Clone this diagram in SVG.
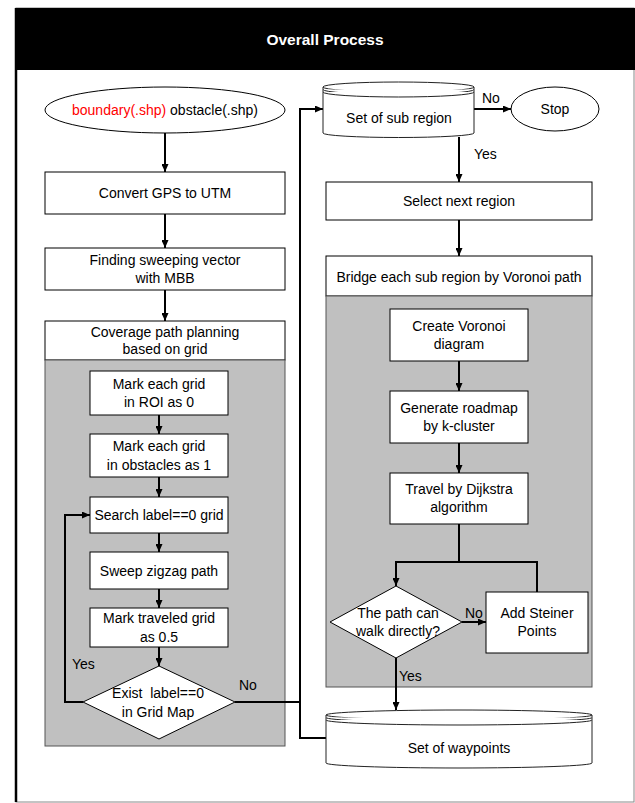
<svg xmlns="http://www.w3.org/2000/svg" width="635" height="803" viewBox="0 0 635 803">
<style>
text{font-family:"Liberation Sans",Arial,sans-serif;font-size:14px;fill:#000;text-anchor:middle}
.box{fill:#fff;stroke:#000;stroke-width:1}
.gray{fill:#c0c0c0;stroke:#555;stroke-width:1}
.cyl{fill:#fff;stroke:#222;stroke-width:1}
.ln{fill:none;stroke:#000;stroke-width:2}
.lbl{text-anchor:start}
.pre{white-space:pre}
</style>
<defs>
<marker id="ah" markerUnits="userSpaceOnUse" markerWidth="8" markerHeight="7" refX="8" refY="3.5" orient="auto">
<path d="M0,0 L8,3.5 L0,7 z" fill="#000"/>
</marker>
</defs>
<rect x="0" y="0" width="635" height="803" fill="#fff"/>
<g id="frame">
<rect x="16" y="8" width="618" height="794" fill="#fff" stroke="#888" stroke-width="1"/>
<rect x="16" y="8" width="619" height="62" fill="#000"/>
<line x1="16" y1="8" x2="16" y2="802" stroke="#000" stroke-width="2.5"/>
<text x="325" y="45" style="font-weight:bold;font-size:15.5px;fill:#fff">Overall Process</text>
</g>
<g id="coverage-container">
<rect class="box" x="45" y="321" width="240" height="39"/>
<rect class="gray" x="45" y="360" width="240" height="386"/>
<text x="165" y="337">Coverage path planning</text>
<text x="165" y="354">based on grid</text>
</g>
<g id="bridge-container">
<rect class="box" x="326" y="256" width="266" height="40"/>
<rect class="gray" x="326" y="296" width="266" height="391"/>
<text x="459" y="282">Bridge each sub region by Voronoi path</text>
</g>
<g id="connectors">
<path class="ln" d="M165,133 V172" marker-end="url(#ah)"/>
<path class="ln" d="M165,214 V248" marker-end="url(#ah)"/>
<path class="ln" d="M165,290 V321" marker-end="url(#ah)"/>
<path class="ln" d="M159,415 V434" marker-end="url(#ah)"/>
<path class="ln" d="M159,477 V497" marker-end="url(#ah)"/>
<path class="ln" d="M159,533 V552" marker-end="url(#ah)"/>
<path class="ln" d="M159,589 V608" marker-end="url(#ah)"/>
<path class="ln" d="M159,647 V666" marker-end="url(#ah)"/>
<path class="ln" d="M83,702 H65 V515 H90" marker-end="url(#ah)"/>
<path class="ln" d="M235,702 H300 V109 H323" marker-end="url(#ah)"/>
<path class="ln" d="M300,702 V738 H326"/>
<path class="ln" d="M474,109 H511" marker-end="url(#ah)"/>
<path class="ln" d="M459,137 V182" marker-end="url(#ah)"/>
<path class="ln" d="M459,220 V256" marker-end="url(#ah)"/>
<path class="ln" d="M459,361 V391" marker-end="url(#ah)"/>
<path class="ln" d="M459,443 V473" marker-end="url(#ah)"/>
<path class="ln" d="M459,524 V562"/>
<path class="ln" d="M537,592 V562 H396 V586" marker-end="url(#ah)"/>
<path class="ln" d="M462,622 H486" marker-end="url(#ah)"/>
<path class="ln" d="M396,658 V710" marker-end="url(#ah)"/>
<text class="lbl" x="482" y="103">No</text>
<text class="lbl" x="474" y="159">Yes</text>
<text class="lbl" x="72" y="669">Yes</text>
<text class="lbl" x="239" y="690">No</text>
<text class="lbl" x="465" y="618">No</text>
<text class="lbl" x="399" y="681">Yes</text>
</g>
<g id="start">
<ellipse cx="165" cy="110" rx="120" ry="23" fill="#fff" stroke="#000" stroke-width="1"/>
<text x="165" y="115"><tspan fill="#ff0000">boundary(.shp)</tspan> obstacle(.shp)</text>
</g>
<g id="convert">
<rect class="box" x="45" y="172" width="240" height="42"/>
<text x="165" y="198">Convert GPS to UTM</text>
</g>
<g id="finding">
<rect class="box" x="45" y="248" width="240" height="42"/>
<text x="165" y="265">Finding sweeping vector</text>
<text x="165" y="283">with MBB</text>
</g>
<g id="mark-roi">
<rect class="box" x="90" y="371" width="138" height="44"/>
<text x="159" y="389">Mark each grid</text>
<text x="159" y="407">in ROI as 0</text>
</g>
<g id="mark-obstacles">
<rect class="box" x="90" y="434" width="138" height="43"/>
<text x="159" y="451">Mark each grid</text>
<text x="159" y="470">in obstacles as 1</text>
</g>
<g id="search">
<rect class="box" x="90" y="497" width="138" height="36"/>
<text x="159" y="520">Search label==0 grid</text>
</g>
<g id="sweep">
<rect class="box" x="90" y="552" width="138" height="37"/>
<text x="159" y="576">Sweep zigzag path</text>
</g>
<g id="mark-traveled">
<rect class="box" x="90" y="608" width="138" height="39"/>
<text x="159" y="623">Mark traveled grid</text>
<text x="159" y="642">as 0.5</text>
</g>
<g id="exist-decision">
<polygon points="159,666 235,702 159,739 83,702" fill="#fff" stroke="#000" stroke-width="1"/>
<text x="158" y="698" class="pre">Exist  label==0</text>
<text x="158" y="717">in Grid Map</text>
</g>
<g id="sub-region">
<path class="cyl" d="M323,87 V133 A75.5,4.5 0 0 0 474,133 V87 z"/>
<ellipse class="cyl" cx="398.5" cy="87" rx="75.5" ry="5"/>
<path class="cyl" fill="none" d="M323,89.5 A75.5,5 0 0 0 474,89.5"/>
<path class="cyl" fill="none" d="M323,92 A75.5,5 0 0 0 474,92"/>
<text x="399" y="123">Set of sub region</text>
</g>
<g id="stop">
<ellipse cx="555" cy="109" rx="44" ry="22" fill="#fff" stroke="#000" stroke-width="1"/>
<text x="555" y="114">Stop</text>
</g>
<g id="select-next">
<rect class="box" x="326" y="182" width="266" height="38"/>
<text x="459" y="206">Select next region</text>
</g>
<g id="create-voronoi">
<rect class="box" x="390" y="309" width="138" height="52"/>
<text x="459" y="331">Create Voronoi</text>
<text x="459" y="349">diagram</text>
</g>
<g id="generate-roadmap">
<rect class="box" x="390" y="391" width="138" height="52"/>
<text x="459" y="413">Generate roadmap</text>
<text x="459" y="431">by k-cluster</text>
</g>
<g id="travel">
<rect class="box" x="390" y="473" width="138" height="51"/>
<text x="459" y="494">Travel by Dijkstra</text>
<text x="459" y="512">algorithm</text>
</g>
<g id="walk-decision">
<polygon points="396,586 462,622 396,658 330,622" fill="#fff" stroke="#000" stroke-width="1"/>
<text x="398" y="618">The path can</text>
<text x="398" y="636">walk directly?</text>
</g>
<g id="steiner">
<rect class="box" x="486" y="592" width="102" height="61"/>
<text x="537" y="618">Add Steiner</text>
<text x="537" y="636">Points</text>
</g>
<g id="waypoints">
<path class="cyl" d="M326,715 V763 A133,5 0 0 0 592,763 V715 z"/>
<ellipse class="cyl" cx="459" cy="715" rx="133" ry="5"/>
<path class="cyl" fill="none" d="M326,717.5 A133,5 0 0 0 592,717.5"/>
<path class="cyl" fill="none" d="M326,720 A133,5 0 0 0 592,720"/>
<text x="459" y="753">Set of waypoints</text>
</g>
</svg>
